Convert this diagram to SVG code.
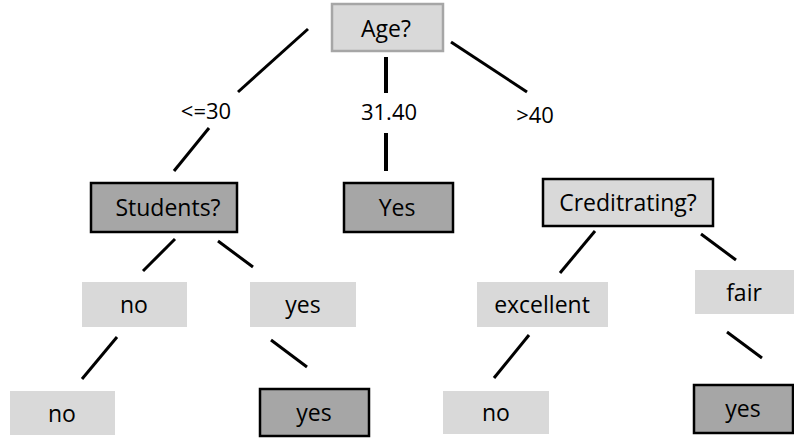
<svg xmlns="http://www.w3.org/2000/svg" width="794" height="440" viewBox="0 0 794 440">
<style>
text{font-family:"Open Sans","Noto Sans","Liberation Sans",sans-serif;font-size:23px;fill:#000;text-anchor:middle;dominant-baseline:central}
.edge text{font-size:22px}
.light{fill:#d9d9d9}
.root{fill:#d9d9d9;stroke:#a6a6a6;stroke-width:2.5}
.lightb{fill:#d9d9d9;stroke:#000;stroke-width:2.5}
.dark{fill:#a6a6a6;stroke:#000;stroke-width:2.5}
.edge line{stroke:#000;stroke-width:3;stroke-linecap:butt}
</style>
<rect width="794" height="440" fill="#fff"/>
<g id="connectors" class="edge">
<line x1="308" y1="29" x2="238" y2="92"/>
<line x1="209" y1="128" x2="174" y2="171"/>
<line x1="386" y1="57" x2="386" y2="93" style="stroke-width:4"/>
<line x1="386" y1="133" x2="386" y2="171" style="stroke-width:4"/>
<line x1="451" y1="42" x2="527" y2="92"/>
<line x1="175" y1="239" x2="143" y2="271"/>
<line x1="218" y1="241" x2="253" y2="267"/>
<line x1="117" y1="337" x2="82" y2="379"/>
<line x1="271" y1="340" x2="307" y2="367"/>
<line x1="595" y1="231" x2="560" y2="273"/>
<line x1="701" y1="234" x2="736" y2="260"/>
<line x1="529" y1="335" x2="494" y2="378"/>
<line x1="727" y1="332" x2="762" y2="358"/>
<text x="206" y="110">&lt;=30</text>
<text x="389" y="111">31.40</text>
<text x="535" y="114">&gt;40</text>
</g>
<g id="age"><rect class="root" x="332" y="4" width="111" height="47"/><text x="386" y="28">Age?</text></g>
<g id="students"><rect class="dark" x="91" y="183" width="146" height="49"/><text x="168" y="207">Students?</text></g>
<g id="yes-mid"><rect class="dark" x="344" y="183" width="109" height="49"/><text x="397" y="207">Yes</text></g>
<g id="creditrating"><rect class="lightb" x="543" y="179" width="170" height="47"/><text x="628" y="202">Creditrating?</text></g>
<g id="no1"><rect class="light" x="82" y="282" width="105" height="45"/><text x="134" y="304">no</text></g>
<g id="yes1"><rect class="light" x="250" y="282" width="106" height="45"/><text x="303" y="304">yes</text></g>
<g id="excellent"><rect class="light" x="477" y="282" width="131" height="45"/><text x="542" y="304">excellent</text></g>
<g id="fair"><rect class="light" x="695" y="270" width="99" height="44"/><text x="744" y="292">fair</text></g>
<g id="no2"><rect class="light" x="10" y="391" width="105" height="44"/><text x="62" y="413">no</text></g>
<g id="yes2"><rect class="dark" x="260" y="389" width="109" height="47"/><text x="314" y="412">yes</text></g>
<g id="no3"><rect class="light" x="443" y="391" width="106" height="43"/><text x="496" y="412">no</text></g>
<g id="yes3"><rect class="dark" x="694" y="385" width="99" height="48"/><text x="743" y="408">yes</text></g>
</svg>
